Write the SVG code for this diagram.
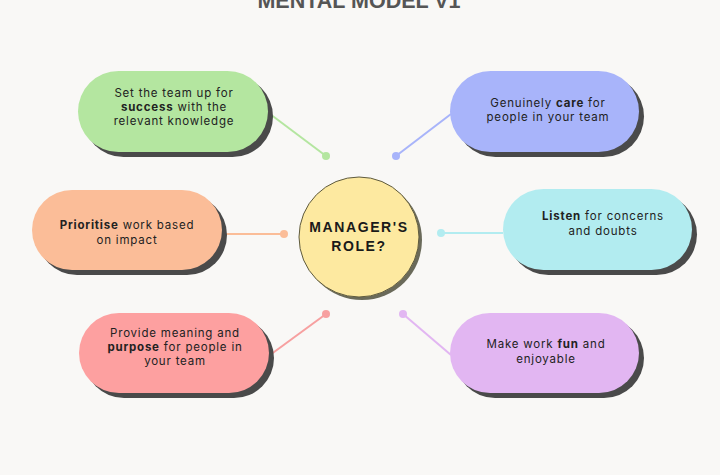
<svg xmlns="http://www.w3.org/2000/svg" width="720" height="475" viewBox="0 0 720 475">
<style>
.t{font-family:Inter,"Liberation Sans",sans-serif;font-size:11.5px;letter-spacing:0.8px;fill:#222;text-anchor:middle}
.b{font-weight:700}
.sh{fill:#4a4a4a}
.ln{stroke-width:2;fill:none}
</style>
<rect width="720" height="475" fill="#f9f8f6"/>
<text x="359" y="8" font-family="'Liberation Sans',Arial,sans-serif" font-size="21.5" font-weight="700" fill="#555" text-anchor="middle">MENTAL MODEL V1</text>
<g id="connectors">
<line class="ln" x1="270" y1="114" x2="326" y2="156" stroke="#b4e6a0"/><circle cx="326" cy="156" r="4" fill="#b4e6a0"/>
<line class="ln" x1="451" y1="114" x2="396" y2="156" stroke="#a8b4fa"/><circle cx="396" cy="156" r="4" fill="#a8b4fa"/>
<line class="ln" x1="222" y1="234" x2="284" y2="234" stroke="#fbbd98"/><circle cx="284" cy="234" r="4" fill="#fbbd98"/>
<line class="ln" x1="503" y1="233" x2="441" y2="233" stroke="#b2ecf0"/><circle cx="441" cy="233" r="4" fill="#b2ecf0"/>
<line class="ln" x1="270" y1="355" x2="326" y2="314" stroke="#f7a0a0"/><circle cx="326" cy="314" r="4" fill="#f7a0a0"/>
<line class="ln" x1="451" y1="355" x2="403" y2="314" stroke="#e2b6f2"/><circle cx="403" cy="314" r="4" fill="#e2b6f2"/>
</g>
<g id="center">
<circle cx="362" cy="240" r="60" fill="#6a6a5a"/>
<circle cx="359" cy="237" r="60" fill="#fde9a0" stroke="#5e5a3e" stroke-width="1"/>
<text x="359" y="232" font-family="'Liberation Sans',Arial,sans-serif" font-size="14" font-weight="700" letter-spacing="1.6" fill="#1a1a1a" text-anchor="middle">MANAGER'S</text>
<text x="359" y="251" font-family="'Liberation Sans',Arial,sans-serif" font-size="14" font-weight="700" letter-spacing="1.6" fill="#1a1a1a" text-anchor="middle">ROLE?</text>
</g>
<g id="success">
<rect class="sh" x="83" y="76" width="190" height="81" rx="40.5"/>
<rect x="78" y="71" width="190" height="81" rx="40.5" fill="#b4e6a0"/>
<text class="t" x="174" y="97">Set the team up for</text>
<text class="t" x="174" y="111"><tspan class="b">success</tspan> with the</text>
<text class="t" x="174" y="125">relevant knowledge</text>
</g>
<g id="care">
<rect class="sh" x="455" y="76" width="189" height="81" rx="40.5"/>
<rect x="450" y="71" width="189" height="81" rx="40.5" fill="#a8b4fa"/>
<text class="t" x="548" y="107">Genuinely <tspan class="b">care</tspan> for</text>
<text class="t" x="548" y="121">people in your team</text>
</g>
<g id="prioritise">
<rect class="sh" x="37" y="195" width="190" height="80" rx="40"/>
<rect x="32" y="190" width="190" height="80" rx="40" fill="#fbbd98"/>
<text class="t" x="127" y="229"><tspan class="b">Prioritise</tspan> work based</text>
<text class="t" x="127" y="244">on impact</text>
</g>
<g id="listen">
<rect class="sh" x="508" y="194" width="189" height="81" rx="40.5"/>
<rect x="503" y="189" width="189" height="81" rx="40.5" fill="#b2ecf0"/>
<text class="t" x="603" y="220"><tspan class="b">Listen</tspan> for concerns</text>
<text class="t" x="603" y="235">and doubts</text>
</g>
<g id="purpose">
<rect class="sh" x="84" y="318" width="190" height="80" rx="40"/>
<rect x="79" y="313" width="190" height="80" rx="40" fill="#fda0a0"/>
<text class="t" x="175" y="337">Provide meaning and</text>
<text class="t" x="175" y="351"><tspan class="b">purpose</tspan> for people in</text>
<text class="t" x="175" y="365">your team</text>
</g>
<g id="fun">
<rect class="sh" x="455" y="318" width="189" height="80" rx="40"/>
<rect x="450" y="313" width="189" height="80" rx="40" fill="#e2b6f2"/>
<text class="t" x="546" y="348">Make work <tspan class="b">fun</tspan> and</text>
<text class="t" x="546" y="363">enjoyable</text>
</g>
</svg>
